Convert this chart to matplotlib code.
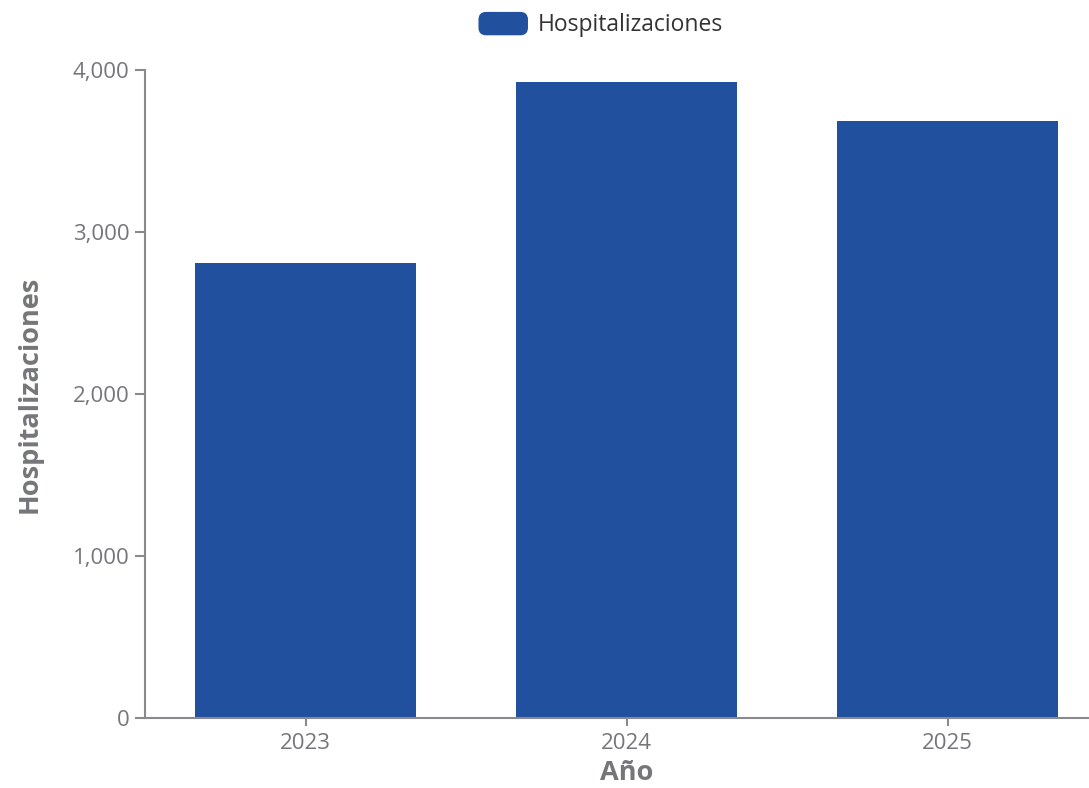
import matplotlib
matplotlib.use("Agg")
import matplotlib.pyplot as plt
from matplotlib.patches import FancyBboxPatch, Patch
from matplotlib.legend_handler import HandlerPatch
from matplotlib.ticker import FuncFormatter

anios = ['2023', '2024', '2025']
hospitalizaciones = [2810, 3925, 3685]
yticks = [0, 1000, 2000, 3000, 4000]

bar_color = '#21509e'
grey = '#75767a'
spine = '#8a8a8e'

plt.rcParams['font.family'] = ['Open Sans', 'DejaVu Sans']

fig = plt.figure(figsize=(10.89, 7.88), dpi=100)
ax = fig.add_axes([145 / 1089, 1 - 718 / 788, 963 / 1089, 648 / 788])

x = range(len(anios))
ax.bar(x, hospitalizaciones, width=0.69, color=bar_color, label='Hospitalizaciones')

ax.set_xlim(-0.5, len(anios) - 0.5)
ax.set_ylim(0, 4000)
ax.set_xticks(list(x))
ax.set_xticklabels(anios)
ax.set_yticks(yticks)
ax.yaxis.set_major_formatter(FuncFormatter(lambda v, p: f'{int(v):,}'))

for side in ['top', 'right']:
    ax.spines[side].set_visible(False)
for side in ['left', 'bottom']:
    ax.spines[side].set_color(spine)
    ax.spines[side].set_linewidth(1.5)
ax.tick_params(axis='both', colors=spine, labelcolor=grey, labelsize=16, width=1.5)
ax.tick_params(axis='y', length=7, pad=4)
ax.tick_params(axis='x', length=6, pad=5)

ax.set_ylabel('Hospitalizaciones', fontsize=19.5, fontweight='bold', color=grey, labelpad=22)
ax.set_xlabel('Año', fontsize=19.5, fontweight='bold', color=grey, labelpad=4)


def rounded(legend, orig_handle, xdescent, ydescent, width, height, fontsize):
    return FancyBboxPatch((-xdescent, -ydescent), width, height,
                          boxstyle='round,pad=0,rounding_size=5')

fig.legend(handles=[Patch(color=bar_color, label='Hospitalizaciones')],
           loc='center', bbox_to_anchor=(601 / 1089, 1 - 25 / 788), frameon=False,
           fontsize=16.5, labelcolor='#333333', handlelength=2.1, handleheight=1.1,
           handletextpad=0.45,
           handler_map={Patch: HandlerPatch(patch_func=rounded)})

fig.savefig('out.png', dpi=100)
